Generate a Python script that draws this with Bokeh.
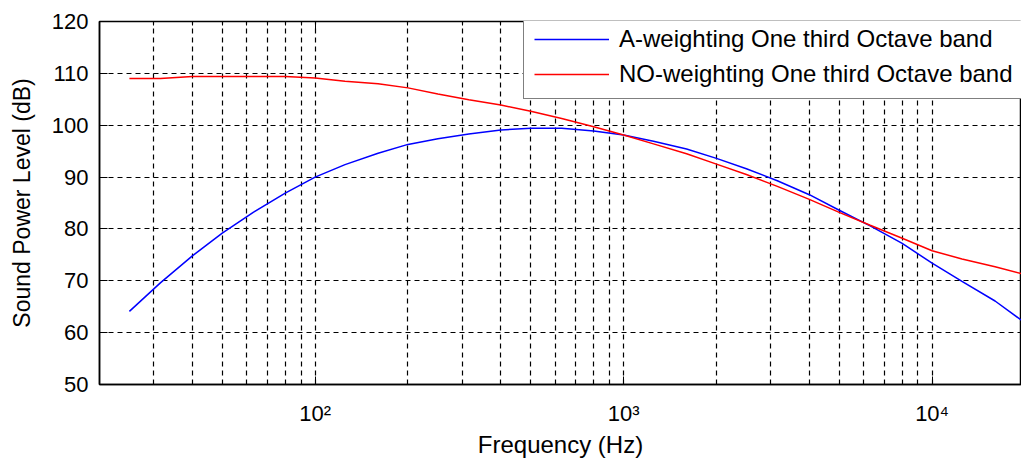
from bokeh.plotting import figure
from bokeh.models import Range1d, FixedTicker, LogAxis, Legend, LegendItem
from bokeh.embed import file_html
from bokeh.resources import INLINE

# One-third octave band centre frequencies (Hz)
freqs = [25, 31.5, 40, 50, 63, 80, 100, 125, 160, 200, 250, 315, 400, 500, 630,
         800, 1000, 1250, 1600, 2000, 2500, 3150, 4000, 5000, 6300, 8000,
         10000, 12500, 16000, 20000]

# Sound power levels (dB)
a_weighted = [64.1, 69.6, 74.8, 79.2, 83.2, 86.9, 90.0, 92.4, 94.6, 96.3, 97.4,
              98.3, 99.1, 99.4, 99.4, 98.9, 98.1, 96.9, 95.4, 93.6, 91.6, 89.3,
              86.6, 83.6, 80.6, 77.2, 73.4, 69.9, 66.1, 61.9]
no_weighted = [109.0, 109.0, 109.4, 109.4, 109.4, 109.4, 109.1, 108.5, 108.0,
               107.2, 106.0, 104.9, 103.9, 102.7, 101.3, 99.7, 98.1, 96.4, 94.5,
               92.5, 90.5, 88.2, 85.7, 83.2, 80.7, 78.2, 75.8, 74.2, 72.7, 71.2]

series_labels = ["A-weighting One third Octave band",
                 "NO-weighting One third Octave band"]

x_major = [100, 1000, 10000]
x_minor = [20, 30, 40, 50, 60, 70, 80, 90,
           200, 300, 400, 500, 600, 700, 800, 900,
           2000, 3000, 4000, 5000, 6000, 7000, 8000, 9000, 20000]
x_labels = {100: "10\u00b2", 1000: "10\u00b3", 10000: "10\u2074"}
y_ticks = [50, 60, 70, 80, 90, 100, 110, 120]

FONT = "Liberation Sans"

p = figure(width=1021, height=464, x_axis_type="log",
           x_range=Range1d(20, 19490), y_range=Range1d(50, 120),
           output_backend="svg", toolbar_location=None,
           min_border_left=99, min_border_right=0,
           min_border_top=21, min_border_bottom=80)
p.background_fill_color = "white"
p.border_fill_color = "white"
p.outline_line_color = "black"
p.outline_line_width = 1.5

# Axes
xa = p.xaxis[0]
xa.ticker = FixedTicker(ticks=x_major, minor_ticks=x_minor)
xa.major_label_overrides = x_labels
xa.axis_label = "Frequency (Hz)"
ya = p.yaxis[0]
ya.ticker = FixedTicker(ticks=y_ticks)
ya.axis_label = "Sound Power Level (dB)"

for ax in (xa, ya):
    ax.axis_line_color = "black"
    ax.axis_line_width = 1.5
    ax.major_tick_in = 8
    ax.major_tick_out = 0
    ax.minor_tick_in = 4
    ax.minor_tick_out = 0
    ax.major_tick_line_color = "black"
    ax.minor_tick_line_color = "black"
    ax.major_label_text_font = FONT
    ax.major_label_text_font_size = "22px"
    ax.major_label_text_color = "black"
    ax.axis_label_text_font = FONT
    ax.axis_label_text_font_style = "normal"
    ax.axis_label_text_color = "black"

xa.axis_label_text_font_size = "24px"
ya.axis_label_text_font_size = "23px"
ya.minor_tick_line_color = None
ya.major_label_standoff = 11
ya.axis_label_standoff = 14
xa.major_label_standoff = 16
xa.axis_label_standoff = 2

top = LogAxis(ticker=FixedTicker(ticks=x_major, minor_ticks=x_minor),
              major_tick_in=8, major_tick_out=0, minor_tick_in=4, minor_tick_out=0,
              major_label_text_font_size="2px", major_label_text_color=None,
              major_label_standoff=0, axis_line_color="black")
p.add_layout(top, "above")

# Grid
p.xgrid[0].ticker = FixedTicker(ticks=x_minor + x_major)
p.ygrid[0].ticker = FixedTicker(ticks=y_ticks)
for g in (p.xgrid[0], p.ygrid[0]):
    g.grid_line_color = "black"
    g.grid_line_dash = "5 4"
    g.grid_line_width = 1.2
    g.grid_line_alpha = 1.0

# Curves
r_a = p.line(freqs, a_weighted, line_color="#0000ff", line_width=1.5)
r_n = p.line(freqs, no_weighted, line_color="#ff0000", line_width=1.5)

legend = Legend(items=[LegendItem(label=series_labels[0], renderers=[r_a]),
                       LegendItem(label=series_labels[1], renderers=[r_n])],
                location=(424, 285), padding=10, spacing=7,
                glyph_width=75, glyph_height=28, label_height=28,
                label_standoff=10,
                label_text_font=FONT, label_text_font_size="24px",
                label_text_color="black",
                border_line_color="black", border_line_width=1.5,
                background_fill_color="white", background_fill_alpha=1.0,
                margin=0)
p.add_layout(legend, "center")

open("out.html", "w").write(file_html(p, INLINE))
